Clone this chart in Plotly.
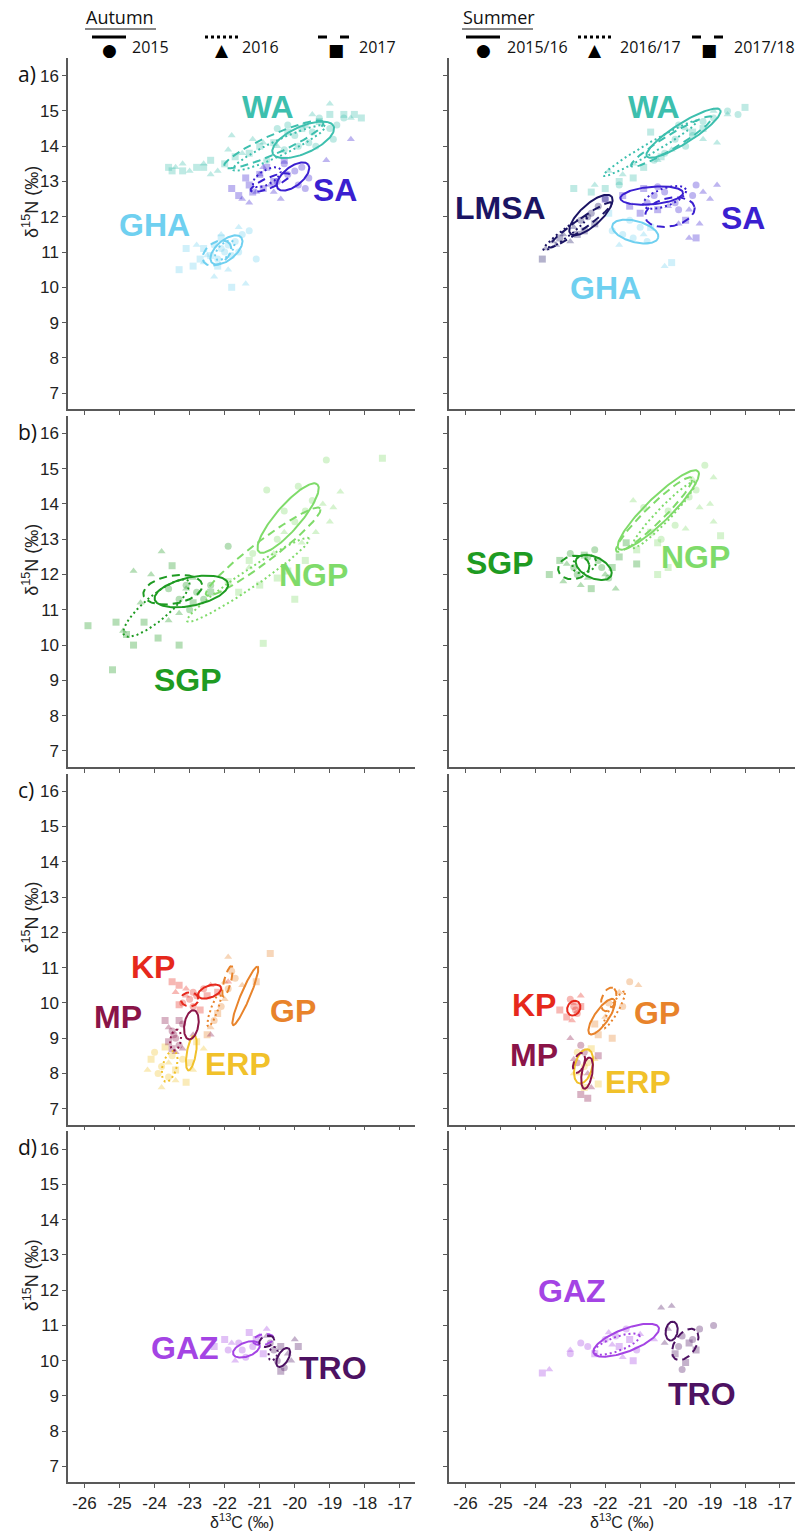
import numpy as np
import plotly.graph_objects as go

# ---------------------------------------------------------------------------
# Stable isotope values (δ13C, δ15N) per population, one list per season year
# index 0 / 1 / 2 -> first / second / third year of sampling
# ---------------------------------------------------------------------------
YEARS_AUT = ["2015", "2016", "2017"]
YEARS_SUM = ["2015/16", "2016/17", "2017/18"]
X_TICKS = [-26, -25, -24, -23, -22, -21, -20, -19, -18, -17]
Y_TICKS = [7, 8, 9, 10, 11, 12, 13, 14, 15, 16]

# --- a) autumn -------------------------------------------------------------
AUT_WA = [
    [(-19.5, 14.4), (-19.0, 14.5), (-19.9, 14.0), (-20.3, 13.9), (-19.3, 14.8), (-18.6, 14.8),
     (-20.8, 13.6), (-19.7, 14.6), (-18.9, 14.2), (-20.0, 14.3), (-20.5, 14.5),
     (-19.6, 14.1), (-20.2, 14.6), (-18.8, 14.6), (-19.4, 14.0)],
    [(-23.4, 13.4), (-23.0, 13.3), (-22.6, 13.5), (-21.9, 13.9), (-21.2, 14.2), (-20.5, 14.0),
     (-19.0, 15.2), (-22.2, 13.3), (-21.5, 13.8), (-21.8, 14.3),
     (-23.2, 13.5), (-22.4, 13.2), (-20.9, 14.1), (-19.5, 14.9), (-18.4, 14.8)],
    [(-23.6, 13.4), (-23.2, 13.3), (-22.8, 13.4), (-22.4, 13.6), (-21.7, 13.7), (-21.0, 14.0),
     (-20.2, 14.4), (-19.3, 14.7), (-18.3, 14.9), (-18.1, 14.8), (-22.0, 13.5), (-19.0, 14.9),
     (-23.5, 13.3), (-22.6, 13.4), (-21.3, 13.8), (-20.6, 14.1), (-19.8, 14.5), (-18.6, 14.9)],
]
AUT_SA = [
    [(-20.2, 13.2), (-19.8, 13.4), (-20.5, 13.0), (-19.9, 12.9), (-20.3, 13.5), (-19.6, 13.1),
     (-20.0, 13.3), (-19.7, 12.8)],
    [(-21.0, 13.2), (-20.7, 12.9), (-21.3, 12.4), (-20.4, 12.5), (-19.1, 13.6), (-18.4, 14.2), (-20.9, 13.4),
     (-21.1, 12.7), (-20.6, 12.7), (-21.5, 12.5)],
    [(-21.6, 12.6), (-21.3, 12.9), (-20.9, 12.8), (-21.0, 13.2), (-20.6, 13.0), (-21.4, 13.1), (-20.3, 13.6),
     (-21.8, 12.8), (-21.2, 12.7), (-20.8, 13.4)],
]
AUT_GHA = [
    [(-22.0, 11.0), (-21.7, 11.3), (-22.2, 10.8), (-21.5, 11.5), (-21.8, 10.9), (-22.3, 11.2), (-21.1, 10.8),
     (-21.9, 11.2), (-22.1, 11.1), (-21.6, 11.0), (-21.3, 11.6)],
    [(-22.6, 10.7), (-22.3, 10.3), (-21.9, 10.5), (-22.8, 11.2), (-21.6, 11.7), (-21.4, 10.1),
     (-22.1, 11.5), (-22.5, 10.9)],
    [(-23.3, 10.5), (-22.9, 10.6), (-22.6, 11.1), (-22.4, 10.9), (-21.8, 10.0), (-22.1, 11.4),
     (-22.7, 10.8), (-22.2, 10.6), (-23.1, 11.1)],
]
# standard ellipses: (centre δ13C, centre δ15N, semi-major, semi-minor, angle°)
AUT_WA_SEA = [(-19.76, 14.18, 0.95, 0.38, 24), (-20.45, 13.95, 1.45, 0.22, 25), (-20.6, 14.05, 1.55, 0.27, 24)]
AUT_SA_SEA = [(-20.05, 13.14, 0.55, 0.27, 38), (-20.8, 13.12, 0.45, 0.2, 30), (-20.7, 12.97, 0.6, 0.15, 22)]
AUT_GHA_SEA = [(-21.95, 11.06, 0.55, 0.28, 40), (-22.0, 11.05, 0.35, 0.18, 45), (-22.22, 10.97, 0.45, 0.3, 35)]

# --- a) summer -------------------------------------------------------------
SUM_WA = [
    [(-19.2, 14.7), (-19.5, 14.3), (-18.5, 15.0), (-18.2, 14.9), (-20.0, 14.2), (-20.6, 13.6),
     (-21.6, 12.9), (-19.9, 14.6), (-18.9, 14.8), (-19.7, 14.0), (-20.3, 13.8)],
    [(-18.9, 15.0), (-19.2, 14.2), (-20.1, 13.9), (-21.2, 13.5), (-21.9, 13.3), (-22.3, 12.9),
     (-19.7, 14.5), (-18.8, 14.1), (-20.5, 13.6), (-21.5, 13.2), (-18.5, 14.9)],
    [(-22.0, 12.8), (-21.6, 13.0), (-22.9, 12.8), (-20.9, 13.4), (-20.4, 13.7), (-19.5, 14.4), (-20.7, 14.4),
     (-22.4, 12.7), (-21.2, 13.1), (-19.2, 14.5), (-18.0, 15.1)],
]
SUM_SA = [
    [(-20.3, 12.7), (-19.4, 12.9), (-19.9, 12.2), (-20.8, 12.4), (-19.5, 12.6), (-20.5, 12.85),
     (-20.0, 12.4), (-20.6, 12.6)],
    [(-18.8, 12.9), (-19.0, 12.5), (-19.3, 11.8), (-19.6, 11.4), (-20.2, 12.3), (-19.6, 12.2),
     (-19.2, 12.7), (-19.9, 11.8)],
    [(-21.5, 12.6), (-22.0, 12.5), (-21.3, 12.3), (-20.9, 12.8), (-19.4, 11.4), (-19.7, 11.9),
     (-21.0, 12.1), (-20.5, 12.2)],
]
SUM_LMSA = [
    [(-22.4, 12.1), (-22.2, 12.3), (-22.7, 11.9), (-22.0, 12.5), (-22.5, 12.0)],
    [(-23.5, 11.3), (-23.2, 11.5), (-22.9, 11.7), (-23.0, 11.3), (-23.7, 11.1), (-23.4, 11.2)],
    [(-23.8, 10.8), (-23.3, 11.4), (-22.6, 11.6), (-22.3, 11.8), (-22.8, 11.5)],
]
SUM_GHA = [
    [(-21.5, 11.5), (-21.0, 11.7), (-20.8, 11.3), (-21.3, 11.9), (-21.8, 11.6), (-21.2, 11.4)],
    [(-20.3, 10.6), (-21.6, 11.2), (-20.9, 11.5)],
    [(-20.1, 10.7), (-21.9, 12.1), (-20.7, 11.7)],
]
SUM_WA_SEA = [(-19.76, 14.37, 1.24, 0.28, 32), (-20.71, 13.94, 1.55, 0.15, 30), (-20.1, 14.13, 1.35, 0.2, 31)]
SUM_SA_SEA = [(-20.67, 12.6, 0.9, 0.25, 5), (-20.3, 12.55, 0.65, 0.25, 20), (-20.15, 12.13, 0.72, 0.4, 12)]
SUM_LMSA_SEA = [(-22.41, 12.05, 0.79, 0.3, 42), (-23.14, 11.53, 0.78, 0.12, 37), (-22.71, 11.77, 1.1, 0.15, 35)]
SUM_GHA_SEA = [(-21.14, 11.58, 0.68, 0.3, -15), None, None]

# --- b) autumn -------------------------------------------------------------
AUT_SGP = [
    [(-23.3, 11.3), (-22.8, 11.5), (-22.4, 11.7), (-23.0, 11.0), (-21.9, 12.8), (-23.6, 11.6),
     (-22.6, 11.3), (-23.1, 11.7)],
    [(-23.8, 12.65), (-24.6, 12.1), (-24.1, 12.0), (-23.1, 11.6), (-24.9, 10.4), (-23.6, 10.7),
     (-22.9, 11.9), (-24.4, 11.2), (-23.3, 10.9)],
    [(-25.9, 10.55), (-25.2, 9.3), (-25.1, 10.65), (-24.6, 10.0), (-24.3, 10.65), (-23.9, 10.2),
     (-23.3, 10.0), (-23.5, 12.25), (-22.4, 11.5), (-24.8, 10.3), (-22.9, 11.2)],
]
AUT_NGP = [
    [(-20.5, 13.0), (-20.0, 13.5), (-19.7, 13.8), (-20.8, 14.4), (-19.1, 15.25), (-21.2, 12.6),
     (-19.5, 14.1), (-20.3, 13.8), (-19.9, 14.5)],
    [(-19.2, 14.0), (-18.7, 14.35), (-19.0, 13.5), (-20.3, 13.2), (-21.3, 12.2), (-19.8, 12.9),
     (-19.4, 13.2), (-20.6, 12.6), (-18.9, 13.9)],
    [(-17.5, 15.3), (-20.9, 10.05), (-20.0, 11.3), (-21.0, 11.7), (-21.6, 11.5), (-21.3, 12.4), (-19.7, 12.4),
     (-20.5, 11.9), (-20.2, 12.1), (-21.9, 11.8)],
]
AUT_SGP_SEA = [(-22.95, 11.52, 1.07, 0.4, 12), (-23.95, 11.05, 1.2, 0.35, 40), (-23.48, 11.57, 0.85, 0.4, 10)]
AUT_NGP_SEA = [(-20.19, 13.6, 1.27, 0.35, 49), (-21.33, 11.85, 2.1, 0.25, 34), (-20.9, 12.65, 2.04, 0.3, 37)]

# --- b) summer -------------------------------------------------------------
SUM_SGP = [
    [(-22.5, 12.5), (-22.1, 12.2), (-22.8, 12.0), (-22.3, 12.7), (-21.9, 11.9), (-23.0, 12.6),
     (-22.2, 12.4), (-22.9, 12.2)],
    [(-23.2, 11.8), (-22.7, 11.7), (-21.7, 11.6), (-23.1, 12.3), (-22.0, 12.0), (-22.5, 11.9)],
    [(-23.6, 12.0), (-22.6, 12.55), (-21.4, 12.9), (-21.1, 12.3), (-21.6, 12.5), (-22.4, 11.6), (-23.3, 12.4),
     (-21.8, 12.2)],
]
SUM_NGP = [
    [(-19.15, 15.1), (-19.4, 14.4), (-20.0, 13.4), (-20.9, 13.9), (-20.4, 13.0), (-19.6, 14.2), (-20.2, 13.8)],
    [(-18.9, 14.75), (-19.0, 14.0), (-18.9, 13.5), (-19.7, 13.3), (-21.2, 14.1), (-19.3, 13.9), (-19.5, 14.7)],
    [(-20.5, 12.9), (-20.5, 12.0), (-20.2, 12.2), (-18.7, 13.1), (-20.7, 13.2), (-21.1, 12.7)],
]
SUM_SGP_SEA = [(-22.33, 12.2, 0.55, 0.3, -25), (-22.6, 12.3, 0.35, 0.25, 20), (-22.9, 12.2, 0.45, 0.33, 10)]
SUM_NGP_SEA = [(-20.48, 13.83, 1.58, 0.35, 44), (-20.33, 13.69, 1.3, 0.2, 46), (-20.6, 13.7, 1.5, 0.25, 44)]

# --- c) autumn -------------------------------------------------------------
AUT_KP = [
    [(-23.0, 10.1), (-22.8, 10.2), (-23.2, 10.0), (-22.6, 10.4), (-22.9, 9.9), (-22.9, 10.3)],
    [(-23.4, 10.3), (-22.4, 10.5), (-21.9, 10.6), (-23.1, 10.4), (-23.1, 10.2)],
    [(-23.3, 9.95), (-22.7, 9.8), (-22.2, 10.3), (-23.5, 10.6), (-22.5, 10.2), (-23.3, 10.5)],
]
AUT_MP = [
    [(-23.4, 9.0), (-23.3, 8.8), (-23.5, 9.2), (-23.2, 9.4), (-23.45, 9.1)],
    [(-23.6, 9.3), (-23.4, 8.6), (-22.9, 9.1), (-22.4, 9.1), (-23.2, 8.7)],
    [(-23.6, 8.9), (-23.3, 9.5), (-23.5, 8.7), (-23.7, 9.5)],
]
AUT_GP = [
    [(-22.1, 9.9), (-21.9, 10.4), (-22.3, 9.5), (-21.7, 10.7), (-21.8, 10.9)],
    [(-21.9, 11.3), (-22.0, 10.1), (-22.4, 9.3), (-21.5, 10.5), (-22.0, 10.6)],
    [(-20.7, 11.4), (-21.1, 10.6), (-22.2, 9.7), (-22.5, 9.1)],
]
AUT_ERP = [
    [(-23.8, 8.2), (-23.5, 8.5), (-24.0, 8.6), (-23.2, 8.4), (-23.6, 7.9), (-23.9, 8.0)],
    [(-23.8, 7.6), (-23.4, 7.8), (-22.9, 8.1), (-24.2, 8.1), (-22.6, 8.7), (-23.6, 8.3)],
    [(-24.1, 8.4), (-23.7, 8.75), (-23.1, 7.75), (-22.8, 8.9), (-23.4, 8.1), (-23.0, 8.3)],
]
AUT_KP_SEA = [(-22.43, 10.32, 0.35, 0.17, 20), None, (-23.0, 10.1, 0.25, 0.2, 0)]
AUT_MP_SEA = [(-22.95, 9.38, 0.42, 0.2, 80), (-23.4, 8.95, 0.3, 0.15, 80), None]
AUT_GP_SEA = [(-21.41, 10.2, 0.9, 0.13, 67), (-22.3, 9.8, 0.5, 0.1, 70), (-21.92, 10.61, 0.45, 0.1, 75)]
AUT_ERP_SEA = [(-22.95, 8.58, 0.5, 0.13, 80), (-23.57, 8.2, 0.45, 0.2, 75), None]

# --- c) summer -------------------------------------------------------------
SUM_KP = [
    [(-22.9, 9.9), (-22.8, 9.7), (-23.0, 10.1), (-22.85, 9.8)],
    [(-22.7, 10.2), (-22.95, 9.5), (-22.9, 10.0)],
    [(-23.3, 9.8), (-23.1, 9.6), (-22.7, 9.9)],
]
SUM_GP = [
    [(-21.3, 10.6), (-21.9, 10.0), (-21.5, 9.9)],
    [(-21.05, 10.5), (-21.6, 10.3), (-22.0, 9.6)],
    [(-22.2, 9.1), (-21.8, 9.0), (-22.3, 9.4)],
]
SUM_MP = [
    [(-22.7, 8.8), (-22.8, 8.3), (-22.6, 8.6)],
    [(-22.5, 8.0), (-22.4, 7.6), (-23.0, 9.0), (-22.9, 8.4)],
    [(-22.7, 7.4), (-22.5, 7.3), (-22.2, 8.5)],
]
SUM_ERP = [
    [(-22.8, 8.6), (-22.6, 8.2), (-22.5, 8.3)],
    [(-22.4, 7.9), (-22.9, 8.0), (-22.3, 8.4), (-22.7, 8.0)],
    [(-22.6, 7.6), (-22.2, 7.7), (-22.4, 8.7)],
]
SUM_KP_SEA = [(-22.9, 9.85, 0.22, 0.18, 60), None, None]
SUM_GP_SEA = [(-22.1, 9.61, 0.6, 0.2, 55), (-21.75, 9.8, 0.6, 0.12, 60), (-21.9, 10.1, 0.35, 0.2, 70)]
SUM_MP_SEA = [(-22.52, 8.01, 0.45, 0.15, 80), None, (-22.75, 8.3, 0.3, 0.15, 70)]
SUM_ERP_SEA = [(-22.62, 8.2, 0.5, 0.25, 75), None, None]

# --- d) autumn -------------------------------------------------------------
AUT_GAZ = [
    [(-21.9, 10.3), (-21.6, 10.5), (-21.4, 10.1), (-21.2, 10.4), (-21.5, 10.3)],
    [(-21.0, 10.7), (-20.8, 10.9), (-21.7, 10.0), (-21.8, 10.5)],
    [(-22.0, 10.6), (-21.3, 10.8), (-20.9, 10.2), (-21.1, 10.6), (-22.3, 10.4)],
]
AUT_TRO = [
    [(-20.5, 10.0), (-20.3, 9.8), (-20.6, 10.3), (-20.7, 10.5)],
    [(-20.2, 10.2), (-20.0, 10.6), (-20.8, 10.7), (-20.1, 10.0)],
    [(-19.9, 10.4), (-20.4, 9.7), (-20.4, 10.4)],
]
AUT_GAZ_SEA = [(-21.38, 10.32, 0.4, 0.2, 20), None, (-20.9, 10.6, 0.3, 0.15, 10)]
AUT_TRO_SEA = [(-20.33, 10.09, 0.3, 0.15, 60), (-20.62, 10.2, 0.2, 0.12, 70), (-20.8, 10.55, 0.22, 0.15, 20)]

# --- d) summer -------------------------------------------------------------
SUM_GAZ = [
    [(-23.0, 10.2), (-22.5, 10.4), (-22.0, 10.6), (-21.7, 10.7), (-21.4, 10.9), (-21.1, 10.3),
     (-22.7, 10.5)],
    [(-23.6, 9.75), (-23.0, 10.3), (-21.5, 10.1), (-21.9, 10.8), (-21.0, 10.75), (-20.6, 10.6),
     (-21.8, 10.45)],
    [(-23.8, 9.65), (-22.3, 10.2), (-21.6, 10.4), (-21.2, 10.0), (-21.3, 10.6)],
]
SUM_TRO = [
    [(-19.3, 10.9), (-18.9, 11.0), (-19.5, 10.6), (-19.8, 10.7), (-19.8, 9.75), (-19.9, 10.4)],
    [(-20.4, 11.5), (-20.1, 11.55), (-20.2, 10.9), (-20.3, 10.5)],
    [(-20.0, 10.2), (-19.7, 9.95), (-19.6, 10.5), (-19.4, 10.3)],
]
SUM_GAZ_SEA = [(-21.4, 10.58, 1.0, 0.32, 21), (-21.67, 10.47, 0.7, 0.2, 20), None]
SUM_TRO_SEA = [(-20.1, 10.84, 0.27, 0.17, 80), None, (-19.71, 10.46, 0.5, 0.3, 55)]

# population colours
COL = {
    "WA": "#3dbfae", "SA": "#3a1fd0", "GHA": "#6fd0f0", "LMSA": "#1b1463",
    "SGP": "#1e9b22", "NGP": "#7fdb6a",
    "KP": "#e6281c", "MP": "#8a1448", "GP": "#e8832b", "ERP": "#f1c12a",
    "GAZ": "#a444e4", "TRO": "#4d1262",
}

# (population, points, ellipses, label position)
PANELS = {
    (0, 0): [("WA", AUT_WA, AUT_WA_SEA, (-20.75, 15.12)),
             ("SA", AUT_SA, AUT_SA_SEA, (-18.86, 12.76)),
             ("GHA", AUT_GHA, AUT_GHA_SEA, (-24.0, 11.77))],
    (0, 1): [("WA", SUM_WA, SUM_WA_SEA, (-20.6, 15.12)),
             ("GHA", SUM_GHA, SUM_GHA_SEA, (-22.0, 9.98)),
             ("SA", SUM_SA, SUM_SA_SEA, (-18.05, 11.96)),
             ("LMSA", SUM_LMSA, SUM_LMSA_SEA, (-25.0, 12.24))],
    (1, 0): [("NGP", AUT_NGP, AUT_NGP_SEA, (-19.48, 11.99)),
             ("SGP", AUT_SGP, AUT_SGP_SEA, (-23.05, 9.02))],
    (1, 1): [("NGP", SUM_NGP, SUM_NGP_SEA, (-19.43, 12.51)),
             ("SGP", SUM_SGP, SUM_SGP_SEA, (-25.0, 12.32))],
    (2, 0): [("GP", AUT_GP, AUT_GP_SEA, (-20.05, 9.76)),
             ("KP", AUT_KP, AUT_KP_SEA, (-24.05, 11.03)),
             ("ERP", AUT_ERP, AUT_ERP_SEA, (-21.62, 8.27)),
             ("MP", AUT_MP, AUT_MP_SEA, (-25.05, 9.61))],
    (2, 1): [("GP", SUM_GP, SUM_GP_SEA, (-20.52, 9.7)),
             ("KP", SUM_KP, SUM_KP_SEA, (-24.05, 9.93)),
             ("ERP", SUM_ERP, SUM_ERP_SEA, (-21.05, 7.76)),
             ("MP", SUM_MP, SUM_MP_SEA, (-24.05, 8.51))],
    (3, 0): [("GAZ", AUT_GAZ, AUT_GAZ_SEA, (-23.14, 10.37)),
             ("TRO", AUT_TRO, AUT_TRO_SEA, (-18.9, 9.8))],
    (3, 1): [("GAZ", SUM_GAZ, SUM_GAZ_SEA, (-22.95, 11.97)),
             ("TRO", SUM_TRO, SUM_TRO_SEA, (-19.24, 9.05))],
}
PANEL_TAGS = ["a)", "b)", "c)", "d)"]

SYMBOLS = ["circle", "triangle-up", "square"]
DASHES = ["solid", "2px,3px", "8px,5px"]

# ---------------------------------------------------------------------------
W, H = 800, 1532
COL_PX = [(68, 415), (449, 795)]
ROW_TOP0, ROW_PITCH, ROW_H = 58, 357.8, 351
X_RANGE = [-26.47, -16.57]
Y_RANGE = [6.55, 16.5]
AXIS_COLOR = "#595959"
TICK_FAMILY = "Liberation Sans Narrow, Arial Narrow, Liberation Sans, Arial, sans-serif"
TICK_FONT = dict(family=TICK_FAMILY, size=17, color="#222222")
LABEL_FONT = "Liberation Sans, Arial, sans-serif"
KEY_FAMILY = "Open Sans, Liberation Sans, Arial, sans-serif"


def px_x(p):
    return p / W


def px_y(p):
    return 1 - p / H


def ellipse(cx, cy, a, b, ang):
    t = np.linspace(0, 2 * np.pi, 120)
    th = np.deg2rad(ang)
    ex = cx + a * np.cos(t) * np.cos(th) - b * np.sin(t) * np.sin(th)
    ey = cy + a * np.cos(t) * np.sin(th) + b * np.sin(t) * np.cos(th)
    return ex, ey


fig = go.Figure()
annotations = []
shapes = []
layout_axes = {}

for r in range(4):
    top = ROW_TOP0 + r * ROW_PITCH
    bottom = top + ROW_H
    for c in range(2):
        idx = r * 2 + c + 1
        xa = "x" if idx == 1 else f"x{idx}"
        ya = "y" if idx == 1 else f"y{idx}"
        xkey = "xaxis" if idx == 1 else f"xaxis{idx}"
        ykey = "yaxis" if idx == 1 else f"yaxis{idx}"
        layout_axes[xkey] = dict(
            domain=[px_x(COL_PX[c][0]), px_x(COL_PX[c][1])], anchor=ya, range=X_RANGE,
            tickvals=X_TICKS, ticktext=[str(v) for v in X_TICKS], showticklabels=(r == 3),
            ticks="outside", ticklen=4, tickcolor=AXIS_COLOR, tickwidth=1,
            showline=True, linecolor=AXIS_COLOR, linewidth=1.5, showgrid=False, zeroline=False,
            tickfont=TICK_FONT,
        )
        layout_axes[ykey] = dict(
            domain=[px_y(bottom), px_y(top)], anchor=xa, range=Y_RANGE,
            tickvals=Y_TICKS, showticklabels=(c == 0),
            ticks="outside", ticklen=4, tickcolor=AXIS_COLOR, tickwidth=1,
            showline=True, linecolor=AXIS_COLOR, linewidth=1.5, showgrid=False, zeroline=False,
            tickfont=TICK_FONT,
        )

        groups = PANELS[(r, c)]
        # points first, ellipses on top
        for name, pts, seas, lab in groups:
            for k in range(3):
                if not pts[k]:
                    continue
                xs = [p[0] for p in pts[k]]
                ys = [p[1] for p in pts[k]]
                fig.add_trace(go.Scatter(
                    x=xs, y=ys, mode="markers", xaxis=xa, yaxis=ya, showlegend=False,
                    marker=dict(symbol=SYMBOLS[k], size=7, color=COL[name], opacity=0.33,
                                line=dict(width=0)),
                    hoverinfo="skip"))
        for name, pts, seas, lab in groups:
            for k in range(3):
                if seas[k] is None:
                    continue
                ex, ey = ellipse(*seas[k])
                fig.add_trace(go.Scatter(
                    x=ex, y=ey, mode="lines", xaxis=xa, yaxis=ya, showlegend=False,
                    line=dict(color=COL[name], width=2, dash=DASHES[k]), hoverinfo="skip"))
            annotations.append(dict(
                x=lab[0], y=lab[1], xref=xa, yref=ya, text=f"<b>{name}</b>", showarrow=False,
                font=dict(family=LABEL_FONT, size=32, color=COL[name]),
                xanchor="center", yanchor="middle"))

        if c == 0:
            # panel tag and y-axis title
            annotations.append(dict(
                x=px_x(16), y=px_y(top + 16), xref="paper", yref="paper", text=PANEL_TAGS[r],
                showarrow=False, xanchor="left", yanchor="middle",
                font=dict(family=KEY_FAMILY, size=21, color="#111111")))
            annotations.append(dict(
                x=px_x(31), y=px_y(top + ROW_H * 0.41), xref="paper", yref="paper",
                text="δ<sup>15</sup>N (‰)", textangle=-90, showarrow=False,
                xanchor="center", yanchor="middle",
                font=dict(family=TICK_FAMILY, size=18, color="#222222")))
        if r == 3:
            annotations.append(dict(
                x=px_x((COL_PX[c][0] + COL_PX[c][1]) / 2), y=px_y(1532), xref="paper", yref="paper",
                text="δ<sup>13</sup>C (‰)", showarrow=False, xanchor="center", yanchor="bottom",
                borderpad=0, font=dict(family=TICK_FAMILY, size=16, color="#222222")))

# ---------------------------------------------------------------------------
# season key above the panels
KEY_MARK = ["●", "▲", "■"]
keys = [
    ("Autumn", 84, YEARS_AUT, [(92, 126), (205, 238), (318, 353)], [130, 240, 357]),
    ("Summer", 461, YEARS_SUM, [(466, 500), (578, 611), (692, 726)], [505, 618, 732]),
]
for title, tx, years, segs, txs in keys:
    annotations.append(dict(x=px_x(tx), y=px_y(17), xref="paper", yref="paper", text=title,
                            showarrow=False, xanchor="left", yanchor="middle",
                            font=dict(family=KEY_FAMILY, size=18, color="#111111")))
    shapes.append(dict(type="line", xref="paper", yref="paper", x0=px_x(tx + 1), x1=px_x(tx + 72),
                       y0=px_y(29), y1=px_y(29), line=dict(color="#111111", width=1)))
    for k in range(3):
        x0, x1 = segs[k]
        shapes.append(dict(type="line", xref="paper", yref="paper", x0=px_x(x0), x1=px_x(x1),
                           y0=px_y(37), y1=px_y(37),
                           line=dict(color="#000000", width=3,
                                     dash=["solid", "3px,3px", "9px,13px"][k])))
        annotations.append(dict(x=px_x((x0 + x1) / 2), y=px_y(50), xref="paper", yref="paper",
                                text=KEY_MARK[k], showarrow=False, xanchor="center", yanchor="middle",
                                font=dict(family="DejaVu Sans", size=17, color="#000000")))
        annotations.append(dict(x=px_x(txs[k]), y=px_y(47), xref="paper", yref="paper",
                                text=years[k], showarrow=False, xanchor="left", yanchor="middle",
                                font=dict(family=KEY_FAMILY, size=16, color="#111111")))

fig.update_layout(
    width=W, height=H, margin=dict(l=0, r=0, t=0, b=0),
    paper_bgcolor="white", plot_bgcolor="white", showlegend=False,
    annotations=annotations, shapes=shapes, **layout_axes,
)

fig.write_html("out.html")
